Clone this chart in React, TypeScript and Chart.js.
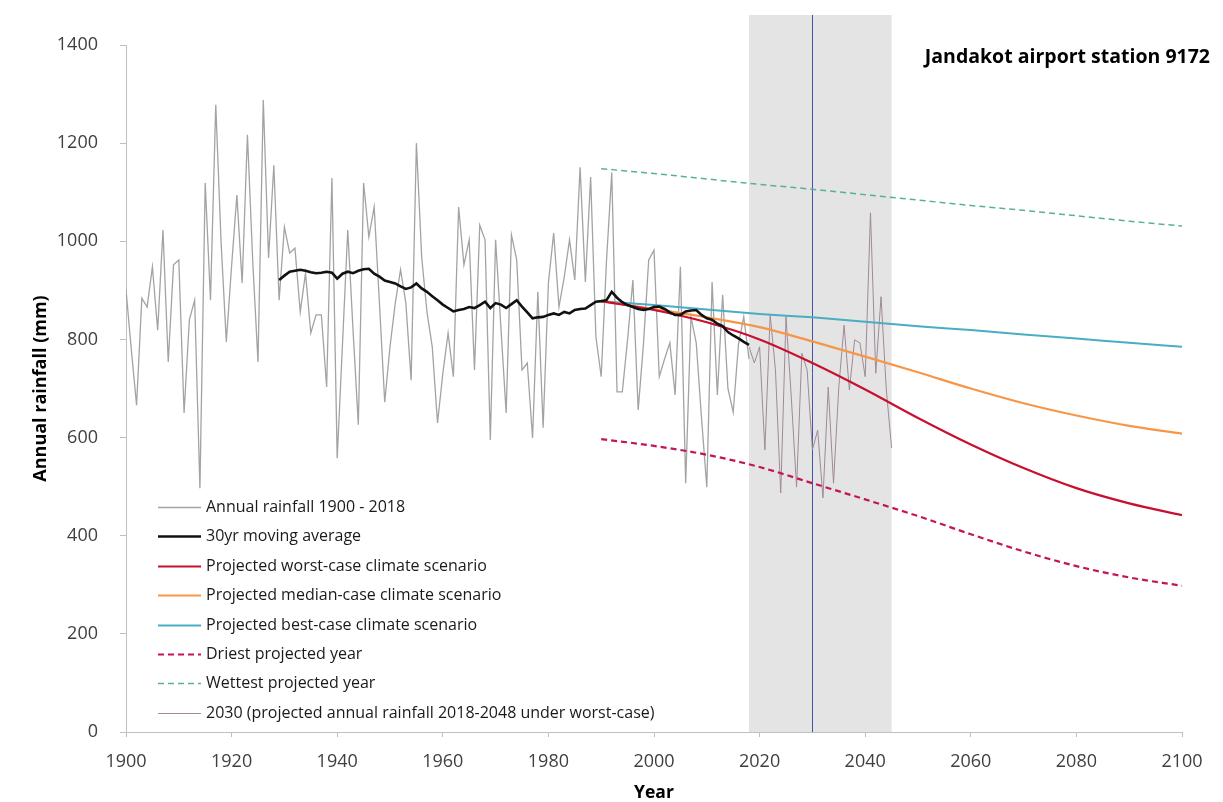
import React, { useEffect, useRef } from 'react';
import { Chart, registerables } from 'chart.js';

Chart.register(...registerables);

// ---------- DATA ----------
const ANNUAL_START = 1900;
const annualRainfall = [
  901, 780, 666, 884, 866, 948, 819, 1023, 754, 952,
  962, 650, 840, 880, 497, 1119, 880, 1278, 1000, 795,
  950, 1094, 915, 1217, 960, 754, 1288, 966, 1155, 880,
  1029, 976, 986, 856, 935, 813, 850, 850, 703, 1129,
  558, 790, 1023, 819, 626, 1119, 1009, 1070, 874, 672,
  785, 874, 942, 874, 717, 1200, 968, 856, 785, 630,
  730, 813, 724, 1070, 952, 1003, 738, 1033, 1003, 595,
  1003, 825, 650, 1013, 962, 738, 752, 599, 897, 620,
  915, 1017, 866, 927, 1003, 921, 1151, 917, 1131, 805,
  724, 960, 1140, 693, 693, 800, 921, 656, 790, 962,
  982, 724, 760, 793, 687, 948, 507, 846, 793, 640,
  499, 917, 687, 891, 700, 652, 790, 846, 760,
];

const MA_START = 1929;
const movingAverage = [
  921, 930, 938, 940, 942, 940, 937, 935, 936, 938, 936,
  924, 934, 938, 935, 940, 943, 944, 934, 928, 920,
  917, 914, 908, 903, 906, 914, 904, 897, 888, 880,
  871, 864, 857, 860, 862, 866, 864, 870, 877, 864,
  874, 871, 864, 872, 880, 867, 855, 843, 845, 846,
  850, 853, 850, 856, 853, 860, 862, 863, 870, 877,
  878, 880, 897, 885, 876, 870, 866, 862, 860, 862,
  866, 867, 862, 855, 850, 850, 857, 859, 860, 850,
  843, 840, 832, 827, 815, 808, 802, 795, 789,
];

const projectionYears = [1990, 2000, 2010, 2020, 2030, 2040, 2050, 2060, 2070, 2080, 2090, 2100];
const worstCase = [878, 860, 835, 800, 752, 698, 640, 586, 538, 497, 466, 442];
const medianCase = [878, 862, 845, 825, 796, 765, 733, 700, 670, 645, 624, 608];
const bestCase = [878, 870, 861, 852, 845, 836, 827, 819, 810, 802, 793, 785];
const driestYear = [597, 583, 565, 540, 507, 474, 440, 403, 368, 338, 315, 298];
const wettestYear = [1148, 1138, 1127, 1116, 1106, 1095, 1084, 1073, 1063, 1052, 1041, 1031];

const SCENARIO_START = 2018;
const scenario2030 = [
  785, 752, 785, 575, 850, 738, 487, 846, 683, 499,
  772, 738, 575, 615, 477, 703, 507, 703, 829, 697,
  799, 793, 724, 1058, 731, 887, 697, 579,
];

const yTickValues = [0, 200, 400, 600, 800, 1000, 1200, 1400];
const xTickValues = [1900, 1920, 1940, 1960, 1980, 2000, 2020, 2040, 2060, 2080, 2100];
const shadeStartYear = 2018;
const shadeEndYear = 2045;
const markerYear = 2030;

const stationTitle = 'Jandakot airport station 9172';
const yAxisTitle = 'Annual rainfall (mm)';
const xAxisTitle = 'Year';

const labels = {
  annual: 'Annual rainfall 1900 - 2018',
  ma: '30yr moving average',
  worst: 'Projected worst-case climate scenario',
  median: 'Projected median-case climate scenario',
  best: 'Projected best-case climate scenario',
  driest: 'Driest projected year',
  wettest: 'Wettest projected year',
  s2030: '2030 (projected annual rainfall 2018-2048 under worst-case)',
};

// ---------- HELPERS ----------
const fromStart = (start: number, values: number[]) => values.map((v, i) => ({ x: start + i, y: v }));
const fromYears = (years: number[], values: number[]) => values.map((v, i) => ({ x: years[i], y: v }));

const FONT = '"Open Sans", "Noto Sans", sans-serif';

const bandPlugin = {
  id: 'band',
  beforeDatasetsDraw(chart: any) {
    const { ctx, chartArea, scales } = chart;
    const xs = scales.x;
    const x1 = xs.getPixelForValue(shadeStartYear);
    const x2 = xs.getPixelForValue(shadeEndYear);
    const xm = xs.getPixelForValue(markerYear);
    const top = chartArea.top - 30;
    ctx.save();
    ctx.fillStyle = '#E4E4E4';
    ctx.fillRect(x1, top, x2 - x1, chartArea.bottom - top);
    ctx.strokeStyle = '#4453A6';
    ctx.lineWidth = 1;
    ctx.beginPath();
    ctx.moveTo(Math.round(xm) + 0.5, top);
    ctx.lineTo(Math.round(xm) + 0.5, chartArea.bottom);
    ctx.stroke();
    ctx.restore();
  },
};

const overlayPlugin = {
  id: 'overlay',
  afterDatasetsDraw(chart: any) {
    const { ctx, chartArea } = chart;
    ctx.save();
    // title
    ctx.font = `bold 19.5px ${FONT}`;
    ctx.fillStyle = '#000000';
    ctx.textAlign = 'right';
    ctx.textBaseline = 'middle';
    ctx.fillText(stationTitle, chartArea.right + 28, chartArea.top + 12);

    // legend
    const boxLeft = chartArea.left + 24;
    const boxTop = chartArea.bottom - 240;
    ctx.fillStyle = '#FFFFFF';
    ctx.fillRect(boxLeft, boxTop, 400, 234);
    const rowH = 29.4;
    const firstY = chartArea.bottom - 225;
    const lineX1 = chartArea.left + 32;
    const lineX2 = chartArea.left + 75;
    ctx.font = `16px ${FONT}`;
    ctx.textAlign = 'left';
    ctx.textBaseline = 'middle';
    chart.data.datasets.forEach((ds: any, i: number) => {
      const y = Math.round(firstY + i * rowH) + 0.5;
      ctx.strokeStyle = ds.borderColor;
      ctx.lineWidth = ds.borderWidth;
      ctx.setLineDash(ds.borderDash || []);
      ctx.beginPath();
      ctx.moveTo(lineX1, y);
      ctx.lineTo(lineX2, y);
      ctx.stroke();
      ctx.setLineDash([]);
      ctx.fillStyle = '#1A1A1A';
      ctx.fillText(ds.label, lineX2 + 5, y);
    });
    ctx.restore();
  },
};

export default function App() {
  const canvasRef = useRef<HTMLCanvasElement | null>(null);

  useEffect(() => {
    const canvas = canvasRef.current;
    if (!canvas) return;
    const common = { pointRadius: 0, pointHoverRadius: 0, fill: false };
    const smooth = { cubicInterpolationMode: 'monotone' as const };
    const chart = new Chart(canvas, {
      type: 'line',
      data: {
        datasets: [
          { label: labels.annual, data: fromStart(ANNUAL_START, annualRainfall), borderColor: '#A3A3A3', borderWidth: 1.3, order: 7, ...common },
          { label: labels.ma, data: fromStart(MA_START, movingAverage), borderColor: '#111111', borderWidth: 2.6, order: 0, ...common },
          { label: labels.worst, data: fromYears(projectionYears, worstCase), borderColor: '#C8102E', borderWidth: 2.2, order: 1, ...common, ...smooth },
          { label: labels.median, data: fromYears(projectionYears, medianCase), borderColor: '#F79646', borderWidth: 2.2, order: 2, ...common, ...smooth },
          { label: labels.best, data: fromYears(projectionYears, bestCase), borderColor: '#4BACC6', borderWidth: 2, order: 3, ...common, ...smooth },
          { label: labels.driest, data: fromYears(projectionYears, driestYear), borderColor: '#C4145A', borderWidth: 2.2, borderDash: [6, 4], order: 4, ...common, ...smooth },
          { label: labels.wettest, data: fromYears(projectionYears, wettestYear), borderColor: '#58B09C', borderWidth: 1.5, borderDash: [6, 4], order: 5, ...common, ...smooth },
          { label: labels.s2030, data: fromStart(SCENARIO_START, scenario2030), borderColor: '#A08A98', borderWidth: 1, order: 6, ...common },
        ],
      },
      options: {
        responsive: false,
        animation: false,
        events: [],
        layout: { padding: { top: 45, right: 41, left: 0, bottom: 0 } },
        plugins: { legend: { display: false }, tooltip: { enabled: false }, title: { display: false } },
        scales: {
          x: {
            type: 'linear',
            min: 1900,
            max: 2100,
            afterFit: (s: any) => { s.height = 70; },
            afterBuildTicks: (s: any) => { s.ticks = xTickValues.map((v) => ({ value: v })); },
            ticks: {
              callback: (v: any) => String(v),
              font: { family: FONT, size: 18 },
              color: '#404040',
              padding: 14,
              maxRotation: 0,
            },
            grid: { display: true, drawOnChartArea: false, drawTicks: true, tickLength: 5, color: '#BFBFBF' },
            border: { display: true, color: '#BFBFBF', width: 1 },
            title: { display: true, text: xAxisTitle, font: { family: FONT, size: 17.5, weight: 'bold' }, color: '#000000', padding: { top: 0, bottom: -2 } },
          },
          y: {
            type: 'linear',
            min: 0,
            max: 1400,
            afterFit: (s: any) => { s.width = 126; },
            afterBuildTicks: (s: any) => { s.ticks = yTickValues.map((v) => ({ value: v })); },
            ticks: {
              callback: (v: any) => String(v),
              font: { family: FONT, size: 18 },
              color: '#404040',
              padding: 22,
            },
            grid: { display: true, drawOnChartArea: false, drawTicks: true, tickLength: 6, color: '#BFBFBF' },
            border: { display: true, color: '#BFBFBF', width: 1 },
            title: { display: true, text: yAxisTitle, font: { family: FONT, size: 18, weight: 'bold' }, color: '#000000', padding: { top: 30, bottom: 0 } },
          },
        },
      },
      plugins: [bandPlugin, overlayPlugin],
    } as any);
    return () => chart.destroy();
  }, []);

  return (
    <div style={{ position: 'absolute', left: 0, top: 0, width: 1223, height: 802, background: '#FFFFFF' }}>
      <canvas ref={canvasRef} width={1223} height={802} style={{ display: 'block', width: 1223, height: 802 }} />
    </div>
  );
}
